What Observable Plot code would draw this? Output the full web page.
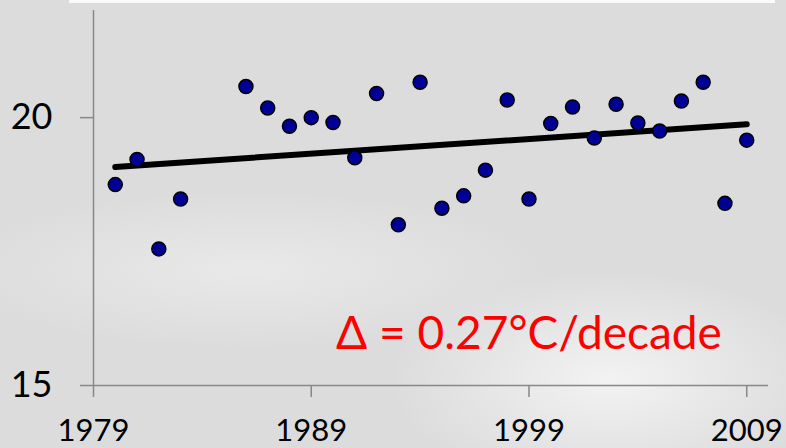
<!DOCTYPE html>
<html>
<head>
<meta charset="utf-8">
<script src="https://cdn.jsdelivr.net/npm/d3@7"></script>
<script src="https://cdn.jsdelivr.net/npm/@observablehq/plot@0.6"></script>
<style>
  html, body { margin: 0; padding: 0; }
  body {
    width: 786px; height: 448px; overflow: hidden;
    background:
      radial-gradient(ellipse 220px 110px at 610px 380px, rgba(245,245,245,0.9), rgba(245,245,245,0) 100%),
      radial-gradient(ellipse 300px 80px at 250px 270px, rgba(236,236,236,0.8), rgba(236,236,236,0) 100%),
      #dcdcdc;
  }
  #chart { position: absolute; left: 0; top: 0; }
  .topband { position: absolute; left: 69px; top: 0; width: 706px; height: 3px; background: #fafafa; }
</style>
</head>
<body>
<div class="topband"></div>
<div id="chart"></div>
<script>
// Data
const years = [1980, 1981, 1982, 1983, 1986, 1987, 1988, 1989, 1990, 1991, 1992, 1993, 1994, 1995,
               1996, 1997, 1998, 1999, 2000, 2001, 2002, 2003, 2004, 2005, 2006, 2007, 2008, 2009];
const temps = [18.75, 19.22, 17.55, 18.48, 20.58, 20.18, 19.84, 20.00, 19.91, 19.25, 20.45, 18.00, 20.66, 18.31,
               18.54, 19.02, 20.33, 18.48, 19.89, 20.20, 19.62, 20.25, 19.90, 19.75, 20.31, 20.66, 18.40, 19.58];
const trendYears = [1980, 2009];
const trendTemps = [19.08, 19.875];
const xTicks = [1979, 1989, 1999, 2009];
const yTicks = [15, 20];
const annotation = ["Δ = 0.27°C/decade"];
const annotationYear = [1999];
const annotationTemp = [15.69];

const points = years.map((y, i) => ({year: y, temp: temps[i]}));
const trend = trendYears.map((y, i) => ({year: y, temp: trendTemps[i]}));
const notes = annotation.map((t, i) => ({text: t, year: annotationYear[i], temp: annotationTemp[i]}));

const axisColor = "#888888";

const chart = Plot.plot({
  width: 786,
  height: 448,
  marginLeft: 93,
  marginRight: 18,
  marginTop: 10,
  marginBottom: 63,
  style: {background: "transparent", fontFamily: "Lato, 'Open Sans', sans-serif", color: "black"},
  x: {domain: [1979, 2010], ticks: xTicks, tickSize: 12, tickPadding: 21, tickFormat: d => String(d), label: null},
  y: {domain: [15, 22], ticks: yTicks, tickSize: 13, tickPadding: 28, tickFormat: d => String(d), label: null},
  marks: [
    // axis lines
    Plot.ruleY([15], {x1: 1979, x2: 2010, stroke: axisColor, strokeWidth: 1.5}),
    Plot.ruleX([1979], {y1: 15, y2: 22, stroke: axisColor, strokeWidth: 1.5}),
    // trend line
    Plot.line(trend, {x: "year", y: "temp", stroke: "black", strokeWidth: 6, strokeLinecap: "round"}),
    // data points
    Plot.dot(points, {x: "year", y: "temp", r: 7, fill: "#000096", stroke: "black", strokeWidth: 1.5}),
    // annotation
    Plot.text(notes, {x: "year", y: "temp", text: "text", fill: "#ff0000", fontSize: 46, lineAnchor: "bottom", textAnchor: "middle"})
  ]
});

// Style the axes (tick colour and label sizes)
const svg = d3.select(chart);
function styleAxis(prefix, size) {
  svg.selectAll(`g[aria-label^='${prefix}']`).each(function() {
    const g = d3.select(this);
    const label = this.getAttribute("aria-label") || "";
    g.selectAll("text").attr("font-size", size).style("font-size", size + "px").attr("fill", "black");
    g.selectAll("line, path").attr("stroke", axisColor).attr("stroke-width", 1.5);
    if (label.includes("tick") && !label.includes("label")) {
      g.attr("stroke", axisColor).attr("stroke-width", 1.5);
    }
  });
}
styleAxis("x-axis", 31);
styleAxis("y-axis", 36);
document.getElementById("chart").appendChild(chart);
</script>
</body>
</html>
